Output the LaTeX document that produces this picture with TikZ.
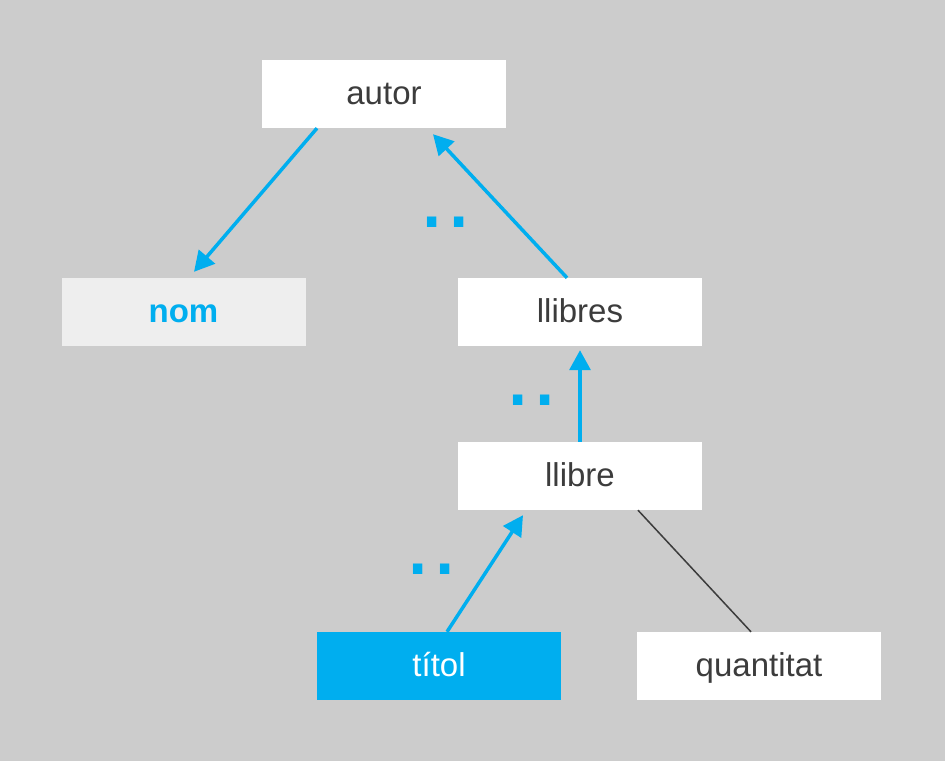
\documentclass[tikz,border=0pt]{standalone}
\usepackage{fontspec}
\setmainfont{Liberation Sans}
\usetikzlibrary{arrows.meta}
\definecolor{bggray}{HTML}{CCCCCC}
\definecolor{xblue}{HTML}{00AEEF}
\definecolor{txtgray}{HTML}{3C3C3C}
\definecolor{lightbox}{HTML}{EEEEEE}

\begin{document}
\begin{tikzpicture}[x=1pt, y=-1pt,
		box/.style={rectangle, fill=white, text=txtgray, minimum width=244pt, minimum height=68pt, inner sep=0pt, text height=21pt, text depth=0pt, font=\fontsize{33}{40}\selectfont},
		toparent/.style={xblue, line width=3.5pt, -{Triangle[length=20pt, width=21pt]}},
		updots/.style={text=xblue, inner sep=0pt, anchor=base west, font=\fontsize{98}{98}\selectfont}]
	
	% Background
	\fill[bggray] (0,0) rectangle (945,761);
	\useasboundingbox (0,0) rectangle (945,761);
	
	% Elements
	\node[box] (autor) at (384,94) {autor};
	\node[box, fill=lightbox, text=xblue, font=\fontsize{33}{40}\selectfont\bfseries] (nom) at (183.5,312) {nom};
	\node[box] (llibres) at (580,312) {llibres};
	\node[box] (llibre) at (580,476) {llibre};
	\node[box, fill=xblue, text=white] (titol) at (439,666) {títol};
	\node[box] (quantitat) at (759,666) {quantitat};
	
	% Parent steps
	\node[updots] (up1) at (418,227) {..};
	\node[updots] (up2) at (504,405) {..};
	\node[updots] (up3) at (404,574) {..};
	
	% Connectors
	\draw[toparent] ([xshift=-67pt]autor.south) -- ([xshift=10.5pt, yshift=6pt]nom.north);
	\draw[toparent] ([xshift=-13pt]llibres.north) -- ([xshift=49pt, yshift=-6pt]autor.south);
	\draw[toparent] (llibre.north) -- ([yshift=-4pt]llibres.south);
	\draw[toparent] ([xshift=8pt]titol.north) -- ([xshift=-57pt, yshift=-5pt]llibre.south);
	\draw[txtgray, line width=1.5pt] ([xshift=58pt]llibre.south) -- ([xshift=-8pt]quantitat.north);
\end{tikzpicture}
\end{document}
